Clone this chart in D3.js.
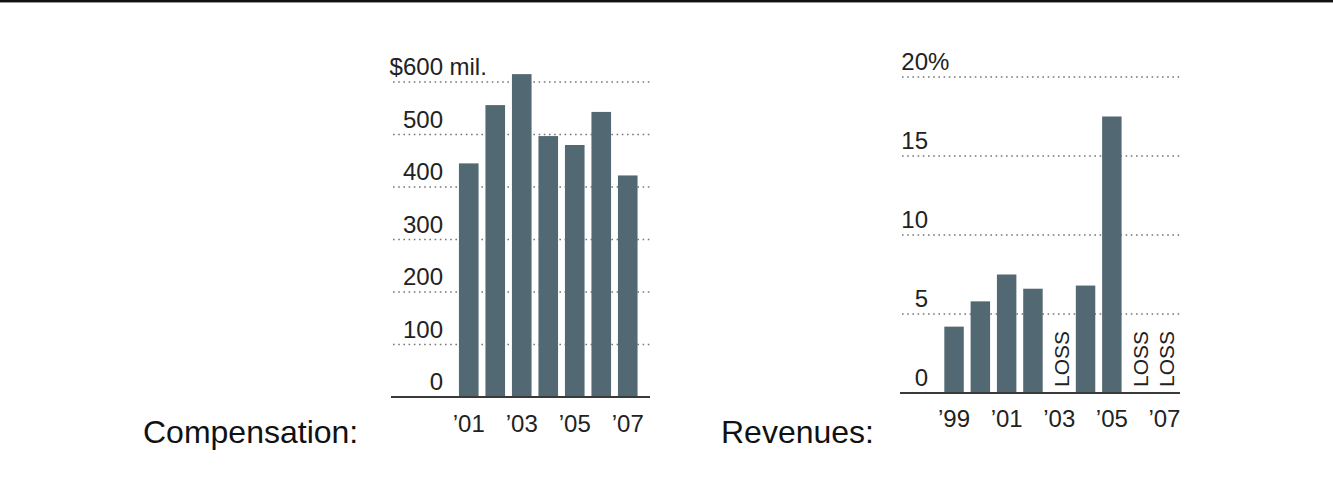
<!DOCTYPE html>
<meta charset="utf-8">
<style>
body { margin: 0; background: #fff; }
svg { display: block; font-family: "Liberation Sans", Arial, Helvetica, sans-serif; }
.tick-label { font-size: 24px; fill: #222; }
.title { font-size: 32px; fill: #111; }
</style>
<svg width="1333" height="480"></svg>
<script src="https://d3js.org/d3.v7.min.js"></script>
<script>

// Compensation, $ millions
var compYears = [2001, 2002, 2003, 2004, 2005, 2006, 2007];
var compValues = [445, 556, 615, 497, 480, 543, 422];
var compTicks = [0, 100, 200, 300, 400, 500, 600];
var compXTicks = [2001, 2003, 2005, 2007];

// Revenues (profit margin), % ; null = loss year
var revYears = [1999, 2000, 2001, 2002, 2003, 2004, 2005, 2006, 2007];
var revValues = [4.2, 5.8, 7.5, 6.6, null, 6.8, 17.5, null, null];
var revTicks = [0, 5, 10, 15, 20];
var revXTicks = [1999, 2001, 2003, 2005, 2007];

var barColor = "#526873";
var svg = d3.select("svg");

// top border
svg.append("rect").attr("x", 0).attr("y", 0).attr("width", 1333).attr("height", 2).attr("fill", "#111");
svg.append("rect").attr("x", 0).attr("y", 2).attr("width", 1333).attr("height", 1).attr("fill", "#999");

function yearLabel(d) { return "\u2019" + String(d).slice(2); }

function drawChart(opt) {
  var g = svg.append("g");

  var x = d3.scaleBand()
      .domain(opt.years)
      .range(opt.xRange)
      .paddingInner(0.26)
      .paddingOuter(0.13);

  var y = d3.scaleLinear()
      .domain([0, d3.max(opt.ticks)])
      .range(opt.yRange);

  // dotted gridlines
  g.append("g").selectAll("line")
    .data(opt.ticks.filter(function(d) { return d > 0; }))
    .enter().append("line")
      .attr("x1", opt.gridX[0])
      .attr("x2", opt.gridX[1])
      .attr("y1", function(d) { return y(d); })
      .attr("y2", function(d) { return y(d); })
      .attr("stroke", "#777")
      .attr("stroke-width", 1.6)
      .attr("stroke-dasharray", "1.6,3.6");

  // bars
  g.append("g").selectAll("rect")
    .data(opt.years.map(function(d, i) { return {year: d, value: opt.values[i]}; })
      .filter(function(d) { return d.value != null; }))
    .enter().append("rect")
      .attr("x", function(d) { return x(d.year); })
      .attr("width", x.bandwidth())
      .attr("y", function(d) { return y(d.value); })
      .attr("height", function(d) { return y(0) - y(d.value); })
      .attr("fill", barColor);

  // LOSS labels
  if (opt.lossLabel) {
    g.append("g").selectAll("text")
      .data(opt.years.filter(function(d, i) { return opt.values[i] == null; }))
      .enter().append("text")
        .attr("class", "tick-label")
        .style("font-size", "21px")
        .attr("transform", function(d) {
          return "translate(" + (x(d) + x.bandwidth() / 2 + 9.5) + "," + (y(0) - 6) + ") rotate(-90)";
        })
        .text("LOSS");
  }

  // baseline
  g.append("line")
    .attr("x1", opt.gridX[0] - 2)
    .attr("x2", opt.gridX[1])
    .attr("y1", y(0))
    .attr("y2", y(0))
    .attr("stroke", "#3a3a3a")
    .attr("stroke-width", 2);

  // y labels
  g.append("g").selectAll("text")
    .data(opt.ticks)
    .enter().append("text")
      .attr("class", "tick-label")
      .attr("text-anchor", "end")
      .attr("x", opt.labelX)
      .attr("y", function(d) { return y(d) - 7; })
      .text(function(d, i) { return (i === opt.ticks.length - 1 ? opt.prefix : "") + d; });

  var top = opt.ticks[opt.ticks.length - 1];
  g.append("text")
    .attr("class", "tick-label")
    .attr("x", opt.labelX + (opt.suffix.charAt(0) === " " ? 6.5 : 0))
    .attr("y", y(top) - 7)
    .text(opt.suffix.trim());

  // x labels
  var xAxis = g.append("g")
    .attr("transform", "translate(0," + opt.xLabelY + ")")
    .call(d3.axisBottom(x).tickValues(opt.xTicks).tickSize(0).tickPadding(0).tickFormat(yearLabel));
  xAxis.select(".domain").remove();
  xAxis.selectAll("text")
    .attr("class", "tick-label")
    .attr("dy", 0)
    .attr("y", 0)
    .attr("fill", null);

  // title
  svg.append("text")
    .attr("class", "title")
    .attr("x", opt.titleX)
    .attr("y", 443)
    .text(opt.title);
}

drawChart({
  years: compYears, values: compValues, ticks: compTicks, xTicks: compXTicks,
  xRange: [455.5, 641], yRange: [397, 82], gridX: [393, 650],
  labelX: 443, prefix: "$", suffix: " mil.", xLabelY: 432,
  title: "Compensation:", titleX: 143, lossLabel: false
});

drawChart({
  years: revYears, values: revValues, ticks: revTicks, xTicks: revXTicks,
  xRange: [940.9, 1177.6], yRange: [393, 77], gridX: [902, 1180],
  labelX: 928, prefix: "", suffix: "%", xLabelY: 427,
  title: "Revenues:", titleX: 721, lossLabel: true
});

</script>
